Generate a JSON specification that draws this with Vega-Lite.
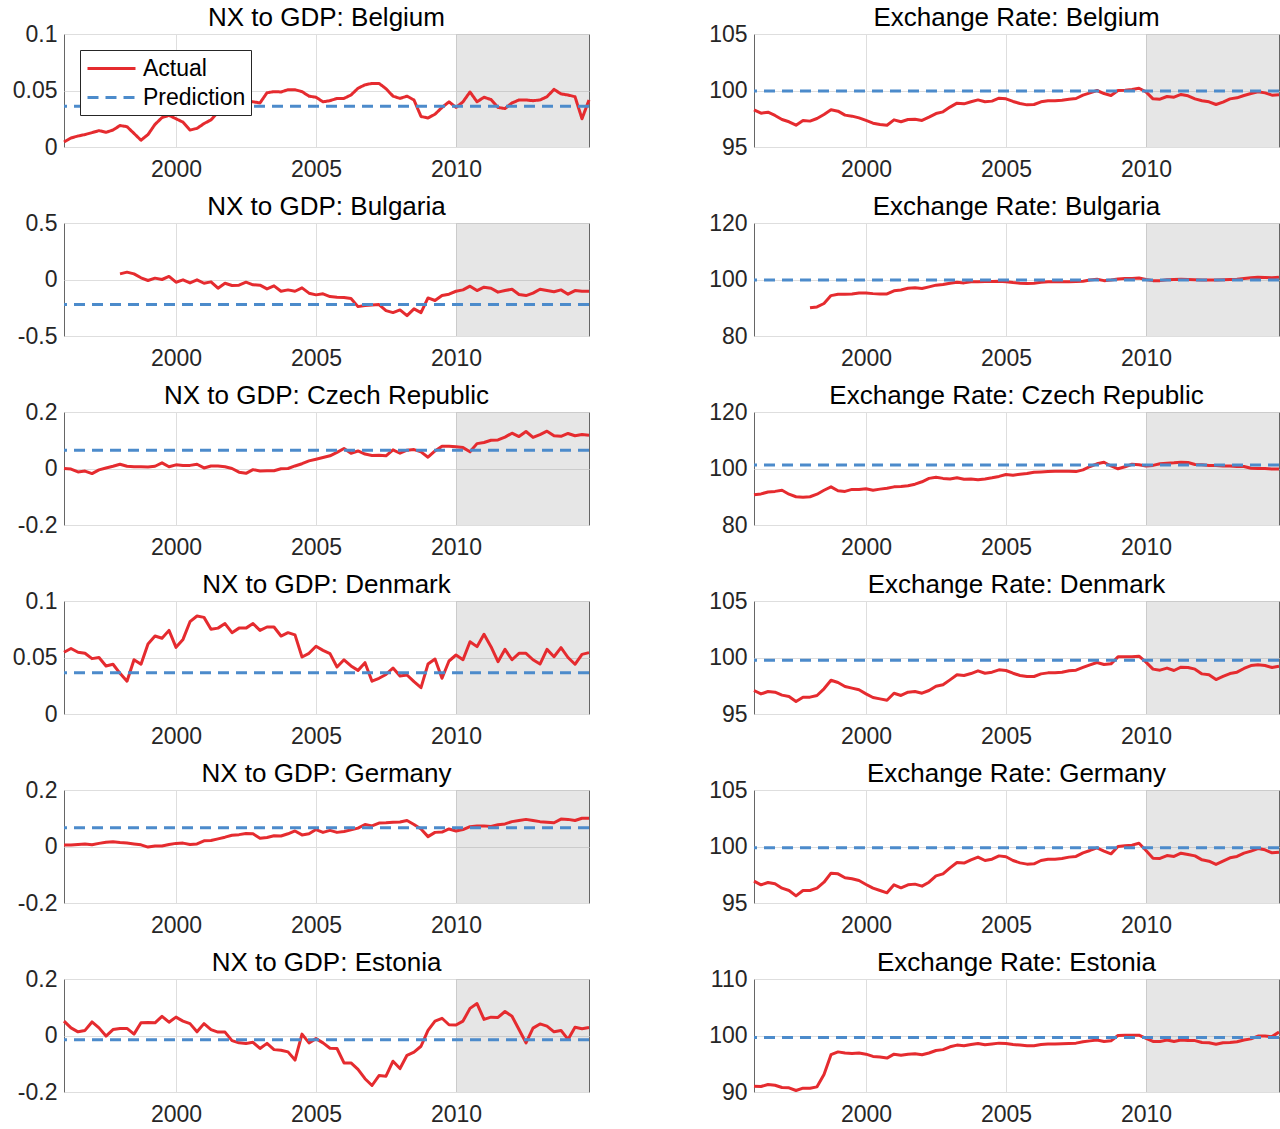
{
  "$schema": "https://vega.github.io/schema/vega-lite/v6.json",
  "background": "white",
  "padding": {"left": 11, "top": 4, "right": 1, "bottom": 4},
  "columns": 2,
  "spacing": {"row": 76, "column": 165},
  "bounds": "flush",
  "resolve": {"scale": {"color": "independent", "strokeDash": "independent"}, "legend": {"color": "independent", "strokeDash": "independent"}},
  "datasets": {
    "shade": [{"start": 2010, "end": 2014.75}],
    "pred": [{"nx_bel": 0.036, "er_bel": 99.95, "nx_bgr": -0.222, "er_bgr": 99.8, "nx_cze": 0.065, "er_cze": 101.2, "nx_dnk": 0.0366, "er_dnk": 99.76, "nx_deu": 0.066, "er_deu": 99.9, "nx_est": -0.015, "er_est": 99.65}],
    "series": [
      {"t":1996,"nx_bel":0.0044,"er_bel":98.29,"nx_bgr":null,"er_bgr":null,"nx_cze":0,"er_cze":90.7,"nx_dnk":0.0546,"er_dnk":97.08,"nx_deu":0.005,"er_deu":96.93,"nx_est":0.051,"er_est":91.03},
      {"t":1996.25,"nx_bel":0.008,"er_bel":97.99,"nx_bgr":null,"er_bgr":null,"nx_cze":-0.002,"er_cze":91.0,"nx_dnk":0.058,"er_dnk":96.78,"nx_deu":0.005,"er_deu":96.61,"nx_est":0.027,"er_est":90.97},
      {"t":1996.5,"nx_bel":0.0097,"er_bel":98.08,"nx_bgr":null,"er_bgr":null,"nx_cze":-0.012,"er_cze":91.7,"nx_dnk":0.0546,"er_dnk":96.99,"nx_deu":0.007,"er_deu":96.81,"nx_est":0.013,"er_est":91.33},
      {"t":1996.75,"nx_bel":0.011,"er_bel":97.79,"nx_bgr":null,"er_bgr":null,"nx_cze":-0.009,"er_cze":91.9,"nx_dnk":0.0537,"er_dnk":96.93,"nx_deu":0.009,"er_deu":96.70,"nx_est":0.018,"er_est":91.2},
      {"t":1997,"nx_bel":0.0127,"er_bel":97.43,"nx_bgr":null,"er_bgr":null,"nx_cze":-0.018,"er_cze":92.3,"nx_dnk":0.049,"er_dnk":96.67,"nx_deu":0.006,"er_deu":96.31,"nx_est":0.048,"er_est":90.8},
      {"t":1997.25,"nx_bel":0.0145,"er_bel":97.23,"nx_bgr":null,"er_bgr":null,"nx_cze":-0.005,"er_cze":90.9,"nx_dnk":0.050,"er_dnk":96.55,"nx_deu":0.011,"er_deu":96.11,"nx_est":0.027,"er_est":90.74},
      {"t":1997.5,"nx_bel":0.013,"er_bel":96.93,"nx_bgr":null,"er_bgr":null,"nx_cze":0.002,"er_cze":90.0,"nx_dnk":0.0425,"er_dnk":96.11,"nx_deu":0.015,"er_deu":95.63,"nx_est":-0.002,"er_est":90.27},
      {"t":1997.75,"nx_bel":0.015,"er_bel":97.35,"nx_bgr":null,"er_bgr":null,"nx_cze":0.008,"er_cze":89.85,"nx_dnk":0.044,"er_dnk":96.49,"nx_deu":0.017,"er_deu":96.11,"nx_est":0.021,"er_est":90.68},
      {"t":1998,"nx_bel":0.019,"er_bel":97.29,"nx_bgr":0.050,"er_bgr":89.97,"nx_cze":0.015,"er_cze":90.0,"nx_dnk":0.036,"er_dnk":96.49,"nx_deu":0.014,"er_deu":96.11,"nx_est":0.025,"er_est":90.68},
      {"t":1998.25,"nx_bel":0.018,"er_bel":97.52,"nx_bgr":0.065,"er_bgr":90.3,"nx_cze":0.008,"er_cze":90.9,"nx_dnk":0.029,"er_dnk":96.64,"nx_deu":0.012,"er_deu":96.31,"nx_est":0.025,"er_est":90.91},
      {"t":1998.5,"nx_bel":0.012,"er_bel":97.88,"nx_bgr":0.050,"er_bgr":91.5,"nx_cze":0.006,"er_cze":92.3,"nx_dnk":0.048,"er_dnk":97.23,"nx_deu":0.009,"er_deu":96.84,"nx_est":0.005,"er_est":93.1},
      {"t":1998.75,"nx_bel":0.006,"er_bel":98.29,"nx_bgr":0.015,"er_bgr":94.3,"nx_cze":0.006,"er_cze":93.5,"nx_dnk":0.044,"er_dnk":97.99,"nx_deu":0.006,"er_deu":97.64,"nx_est":0.045,"er_est":96.6},
      {"t":1999,"nx_bel":0.011,"er_bel":98.17,"nx_bgr":-0.009,"er_bgr":94.8,"nx_cze":0.005,"er_cze":92.1,"nx_dnk":0.062,"er_dnk":97.79,"nx_deu":-0.002,"er_deu":97.58,"nx_est":0.046,"er_est":97.1},
      {"t":1999.25,"nx_bel":0.020,"er_bel":97.82,"nx_bgr":0.012,"er_bgr":94.8,"nx_cze":0.008,"er_cze":91.9,"nx_dnk":0.069,"er_dnk":97.43,"nx_deu":0.002,"er_deu":97.23,"nx_est":0.045,"er_est":96.9},
      {"t":1999.5,"nx_bel":0.026,"er_bel":97.73,"nx_bgr":0,"er_bgr":94.9,"nx_cze":0.020,"er_cze":92.6,"nx_dnk":0.067,"er_dnk":97.29,"nx_deu":0.002,"er_deu":97.14,"nx_est":0.068,"er_est":96.8},
      {"t":1999.75,"nx_bel":0.028,"er_bel":97.58,"nx_bgr":0.027,"er_bgr":95.2,"nx_cze":0.006,"er_cze":92.6,"nx_dnk":0.074,"er_dnk":97.14,"nx_deu":0.007,"er_deu":96.99,"nx_est":0.047,"er_est":96.9},
      {"t":2000,"nx_bel":0.025,"er_bel":97.35,"nx_bgr":-0.024,"er_bgr":95.2,"nx_cze":0.013,"er_cze":92.8,"nx_dnk":0.059,"er_dnk":96.78,"nx_deu":0.011,"er_deu":96.64,"nx_est":0.065,"er_est":96.7},
      {"t":2000.25,"nx_bel":0.022,"er_bel":97.11,"nx_bgr":-0.003,"er_bgr":95.0,"nx_cze":0.011,"er_cze":92.3,"nx_dnk":0.066,"er_dnk":96.46,"nx_deu":0.012,"er_deu":96.31,"nx_est":0.051,"er_est":96.3},
      {"t":2000.5,"nx_bel":0.015,"er_bel":96.99,"nx_bgr":-0.030,"er_bgr":94.9,"nx_cze":0.011,"er_cze":92.7,"nx_dnk":0.0817,"er_dnk":96.34,"nx_deu":0.007,"er_deu":96.11,"nx_est":0.042,"er_est":96.2},
      {"t":2000.75,"nx_bel":0.0165,"er_bel":96.93,"nx_bgr":-0.003,"er_bgr":94.9,"nx_cze":0.015,"er_cze":93.0,"nx_dnk":0.0867,"er_dnk":96.22,"nx_deu":0.009,"er_deu":95.90,"nx_est":0.013,"er_est":96.0},
      {"t":2001,"nx_bel":0.0207,"er_bel":97.40,"nx_bgr":-0.033,"er_bgr":96.0,"nx_cze":0.002,"er_cze":93.5,"nx_dnk":0.0855,"er_dnk":96.84,"nx_deu":0.020,"er_deu":96.61,"nx_est":0.042,"er_est":96.7},
      {"t":2001.25,"nx_bel":0.024,"er_bel":97.23,"nx_bgr":-0.021,"er_bgr":96.3,"nx_cze":0.009,"er_cze":93.6,"nx_dnk":0.075,"er_dnk":96.64,"nx_deu":0.021,"er_deu":96.34,"nx_est":0.021,"er_est":96.5},
      {"t":2001.5,"nx_bel":0.031,"er_bel":97.43,"nx_bgr":-0.077,"er_bgr":96.9,"nx_cze":0.009,"er_cze":93.9,"nx_dnk":0.076,"er_dnk":96.93,"nx_deu":0.027,"er_deu":96.61,"nx_est":0.012,"er_est":96.7},
      {"t":2001.75,"nx_bel":0.034,"er_bel":97.46,"nx_bgr":-0.033,"er_bgr":97.05,"nx_cze":0.006,"er_cze":94.45,"nx_dnk":0.080,"er_dnk":96.99,"nx_deu":0.033,"er_deu":96.67,"nx_est":0.012,"er_est":96.75},
      {"t":2002,"nx_bel":0.036,"er_bel":97.35,"nx_bgr":-0.053,"er_bgr":96.8,"nx_cze":0,"er_cze":95.3,"nx_dnk":0.072,"er_dnk":96.84,"nx_deu":0.040,"er_deu":96.49,"nx_est":-0.018,"er_est":96.6},
      {"t":2002.25,"nx_bel":0.038,"er_bel":97.64,"nx_bgr":-0.050,"er_bgr":97.4,"nx_cze":-0.013,"er_cze":96.5,"nx_dnk":0.076,"er_dnk":97.08,"nx_deu":0.042,"er_deu":96.84,"nx_est":-0.026,"er_est":96.9},
      {"t":2002.5,"nx_bel":0.041,"er_bel":97.96,"nx_bgr":-0.024,"er_bgr":98.0,"nx_cze":-0.017,"er_cze":96.9,"nx_dnk":0.076,"er_dnk":97.46,"nx_deu":0.046,"er_deu":97.40,"nx_est":-0.028,"er_est":97.35},
      {"t":2002.75,"nx_bel":0.040,"er_bel":98.11,"nx_bgr":-0.047,"er_bgr":98.2,"nx_cze":-0.004,"er_cze":96.5,"nx_dnk":0.080,"er_dnk":97.58,"nx_deu":0.045,"er_deu":97.58,"nx_est":-0.024,"er_est":97.5},
      {"t":2003,"nx_bel":0.039,"er_bel":98.53,"nx_bgr":-0.050,"er_bgr":98.7,"nx_cze":-0.009,"er_cze":96.3,"nx_dnk":0.074,"er_dnk":98.02,"nx_deu":0.029,"er_deu":98.11,"nx_est":-0.046,"er_est":98.0},
      {"t":2003.25,"nx_bel":0.048,"er_bel":98.88,"nx_bgr":-0.083,"er_bgr":99.05,"nx_cze":-0.008,"er_cze":96.7,"nx_dnk":0.077,"er_dnk":98.47,"nx_deu":0.032,"er_deu":98.58,"nx_est":-0.028,"er_est":98.3},
      {"t":2003.5,"nx_bel":0.049,"er_bel":98.82,"nx_bgr":-0.056,"er_bgr":98.8,"nx_cze":-0.008,"er_cze":96.2,"nx_dnk":0.077,"er_dnk":98.41,"nx_deu":0.038,"er_deu":98.53,"nx_est":-0.050,"er_est":98.2},
      {"t":2003.75,"nx_bel":0.0487,"er_bel":99.0,"nx_bgr":-0.104,"er_bgr":99.2,"nx_cze":-0.001,"er_cze":96.3,"nx_dnk":0.069,"er_dnk":98.58,"nx_deu":0.037,"er_deu":98.82,"nx_est":-0.052,"er_est":98.4},
      {"t":2004,"nx_bel":0.0507,"er_bel":99.17,"nx_bgr":-0.092,"er_bgr":99.2,"nx_cze":0,"er_cze":96.0,"nx_dnk":0.072,"er_dnk":98.82,"nx_deu":0.045,"er_deu":99.06,"nx_est":-0.058,"er_est":98.6},
      {"t":2004.25,"nx_bel":0.0507,"er_bel":99.0,"nx_bgr":-0.104,"er_bgr":99.3,"nx_cze":0.009,"er_cze":96.3,"nx_dnk":0.070,"er_dnk":98.61,"nx_deu":0.055,"er_deu":98.76,"nx_est":-0.087,"er_est":98.35},
      {"t":2004.5,"nx_bel":0.049,"er_bel":99.06,"nx_bgr":-0.074,"er_bgr":99.3,"nx_cze":0.017,"er_cze":96.7,"nx_dnk":0.0504,"er_dnk":98.70,"nx_deu":0.041,"er_deu":98.88,"nx_est":0.005,"er_est":98.5},
      {"t":2004.75,"nx_bel":0.045,"er_bel":99.32,"nx_bgr":-0.121,"er_bgr":99.4,"nx_cze":0.027,"er_cze":97.2,"nx_dnk":0.0537,"er_dnk":98.91,"nx_deu":0.045,"er_deu":99.17,"nx_est":-0.026,"er_est":98.65},
      {"t":2005,"nx_bel":0.044,"er_bel":99.26,"nx_bgr":-0.136,"er_bgr":99.2,"nx_cze":0.033,"er_cze":97.9,"nx_dnk":0.060,"er_dnk":98.85,"nx_deu":0.060,"er_deu":99.09,"nx_est":-0.011,"er_est":98.6},
      {"t":2005.25,"nx_bel":0.040,"er_bel":99.03,"nx_bgr":-0.127,"er_bgr":98.9,"nx_cze":0.039,"er_cze":97.6,"nx_dnk":0.0563,"er_dnk":98.61,"nx_deu":0.050,"er_deu":98.76,"nx_est":-0.026,"er_est":98.4},
      {"t":2005.5,"nx_bel":0.041,"er_bel":98.85,"nx_bgr":-0.151,"er_bgr":98.7,"nx_cze":0.045,"er_cze":98.0,"nx_dnk":0.0534,"er_dnk":98.41,"nx_deu":0.057,"er_deu":98.55,"nx_est":-0.045,"er_est":98.3},
      {"t":2005.75,"nx_bel":0.043,"er_bel":98.73,"nx_bgr":-0.157,"er_bgr":98.6,"nx_cze":0.057,"er_cze":98.2,"nx_dnk":0.0416,"er_dnk":98.32,"nx_deu":0.050,"er_deu":98.44,"nx_est":-0.046,"er_est":98.2},
      {"t":2006,"nx_bel":0.043,"er_bel":98.76,"nx_bgr":-0.160,"er_bgr":98.7,"nx_cze":0.071,"er_cze":98.7,"nx_dnk":0.048,"er_dnk":98.32,"nx_deu":0.053,"er_deu":98.47,"nx_est":-0.097,"er_est":98.2},
      {"t":2006.25,"nx_bel":0.046,"er_bel":99.0,"nx_bgr":-0.169,"er_bgr":99.05,"nx_cze":0.054,"er_cze":98.8,"nx_dnk":0.0425,"er_dnk":98.55,"nx_deu":0.059,"er_deu":98.76,"nx_est":-0.097,"er_est":98.4},
      {"t":2006.5,"nx_bel":0.052,"er_bel":99.09,"nx_bgr":-0.240,"er_bgr":99.2,"nx_cze":0.062,"er_cze":98.9,"nx_dnk":0.0386,"er_dnk":98.64,"nx_deu":0.065,"er_deu":98.88,"nx_est":-0.120,"er_est":98.5},
      {"t":2006.75,"nx_bel":0.055,"er_bel":99.09,"nx_bgr":-0.231,"er_bgr":99.2,"nx_cze":0.051,"er_cze":99.05,"nx_dnk":0.0454,"er_dnk":98.64,"nx_deu":0.078,"er_deu":98.88,"nx_est":-0.153,"er_est":98.5},
      {"t":2007,"nx_bel":0.0563,"er_bel":99.14,"nx_bgr":-0.225,"er_bgr":99.2,"nx_cze":0.046,"er_cze":99.05,"nx_dnk":0.029,"er_dnk":98.70,"nx_deu":0.073,"er_deu":98.94,"nx_est":-0.177,"er_est":98.55},
      {"t":2007.25,"nx_bel":0.0563,"er_bel":99.23,"nx_bgr":-0.222,"er_bgr":99.2,"nx_cze":0.047,"er_cze":99.05,"nx_dnk":0.0316,"er_dnk":98.82,"nx_deu":0.083,"er_deu":99.06,"nx_est":-0.142,"er_est":98.6},
      {"t":2007.5,"nx_bel":0.0516,"er_bel":99.29,"nx_bgr":-0.275,"er_bgr":99.3,"nx_cze":0.045,"er_cze":98.9,"nx_dnk":0.035,"er_dnk":98.88,"nx_deu":0.084,"er_deu":99.12,"nx_est":-0.144,"er_est":98.65},
      {"t":2007.75,"nx_bel":0.045,"er_bel":99.59,"nx_bgr":-0.293,"er_bgr":99.4,"nx_cze":0.066,"er_cze":99.5,"nx_dnk":0.0407,"er_dnk":99.12,"nx_deu":0.086,"er_deu":99.44,"nx_est":-0.091,"er_est":98.9},
      {"t":2008,"nx_bel":0.043,"er_bel":99.79,"nx_bgr":-0.269,"er_bgr":99.8,"nx_cze":0.054,"er_cze":100.7,"nx_dnk":0.0336,"er_dnk":99.35,"nx_deu":0.087,"er_deu":99.65,"nx_est":-0.117,"er_est":99.05},
      {"t":2008.25,"nx_bel":0.045,"er_bel":100.0,"nx_bgr":-0.320,"er_bgr":100.1,"nx_cze":0.065,"er_cze":101.65,"nx_dnk":0.0345,"er_dnk":99.56,"nx_deu":0.092,"er_deu":99.88,"nx_est":-0.070,"er_est":99.2},
      {"t":2008.5,"nx_bel":0.0416,"er_bel":99.73,"nx_bgr":-0.260,"er_bgr":99.6,"nx_cze":0.067,"er_cze":102.2,"nx_dnk":0.0286,"er_dnk":99.38,"nx_deu":0.078,"er_deu":99.59,"nx_est":-0.059,"er_est":98.95},
      {"t":2008.75,"nx_bel":0.027,"er_bel":99.56,"nx_bgr":-0.293,"er_bgr":99.8,"nx_cze":0.059,"er_cze":100.9,"nx_dnk":0.0233,"er_dnk":99.44,"nx_deu":0.062,"er_deu":99.35,"nx_est":-0.038,"er_est":99.05},
      {"t":2009,"nx_bel":0.0257,"er_bel":100.0,"nx_bgr":-0.163,"er_bgr":100.2,"nx_cze":0.040,"er_cze":99.9,"nx_dnk":0.0442,"er_dnk":100.06,"nx_deu":0.035,"er_deu":100.0,"nx_est":0.018,"er_est":100.0},
      {"t":2009.25,"nx_bel":0.029,"er_bel":100.03,"nx_bgr":-0.186,"er_bgr":100.35,"nx_cze":0.062,"er_cze":100.6,"nx_dnk":0.0487,"er_dnk":100.06,"nx_deu":0.050,"er_deu":100.06,"nx_est":0.051,"er_est":100.05},
      {"t":2009.5,"nx_bel":0.035,"er_bel":100.09,"nx_bgr":-0.142,"er_bgr":100.35,"nx_cze":0.079,"er_cze":101.5,"nx_dnk":0.0316,"er_dnk":100.06,"nx_deu":0.051,"er_deu":100.12,"nx_est":0.061,"er_est":100.05},
      {"t":2009.75,"nx_bel":0.040,"er_bel":100.2,"nx_bgr":-0.130,"er_bgr":100.5,"nx_cze":0.079,"er_cze":101.3,"nx_dnk":0.0469,"er_dnk":100.12,"nx_deu":0.062,"er_deu":100.29,"nx_est":0.038,"er_est":100.05},
      {"t":2010,"nx_bel":0.035,"er_bel":99.88,"nx_bgr":-0.104,"er_bgr":100.0,"nx_cze":0.077,"er_cze":100.9,"nx_dnk":0.0522,"er_dnk":99.59,"nx_deu":0.055,"er_deu":99.65,"nx_est":0.037,"er_est":99.5},
      {"t":2010.25,"nx_bel":0.040,"er_bel":99.26,"nx_bgr":-0.092,"er_bgr":99.6,"nx_cze":0.074,"er_cze":101.1,"nx_dnk":0.048,"er_dnk":98.97,"nx_deu":0.060,"er_deu":98.97,"nx_est":0.051,"er_est":98.95},
      {"t":2010.5,"nx_bel":0.0487,"er_bel":99.23,"nx_bgr":-0.059,"er_bgr":99.6,"nx_cze":0.059,"er_cze":101.65,"nx_dnk":0.064,"er_dnk":98.88,"nx_deu":0.070,"er_deu":98.94,"nx_est":0.096,"er_est":98.95},
      {"t":2010.75,"nx_bel":0.040,"er_bel":99.47,"nx_bgr":-0.098,"er_bgr":99.9,"nx_cze":0.088,"er_cze":101.9,"nx_dnk":0.0596,"er_dnk":99.06,"nx_deu":0.073,"er_deu":99.20,"nx_est":0.113,"er_est":99.2},
      {"t":2011,"nx_bel":0.044,"er_bel":99.41,"nx_bgr":-0.068,"er_bgr":100.0,"nx_cze":0.092,"er_cze":102.0,"nx_dnk":0.0705,"er_dnk":98.85,"nx_deu":0.073,"er_deu":99.12,"nx_est":0.057,"er_est":98.95},
      {"t":2011.25,"nx_bel":0.042,"er_bel":99.65,"nx_bgr":-0.077,"er_bgr":100.1,"nx_cze":0.100,"er_cze":102.2,"nx_dnk":0.0596,"er_dnk":99.14,"nx_deu":0.071,"er_deu":99.41,"nx_est":0.065,"er_est":99.2},
      {"t":2011.5,"nx_bel":0.035,"er_bel":99.53,"nx_bgr":-0.112,"er_bgr":100.0,"nx_cze":0.101,"er_cze":102.1,"nx_dnk":0.0463,"er_dnk":99.12,"nx_deu":0.077,"er_deu":99.29,"nx_est":0.064,"er_est":99.1},
      {"t":2011.75,"nx_bel":0.034,"er_bel":99.26,"nx_bgr":-0.098,"er_bgr":99.9,"nx_cze":0.111,"er_cze":101.4,"nx_dnk":0.0572,"er_dnk":98.97,"nx_deu":0.080,"er_deu":99.17,"nx_est":0.085,"er_est":99.1},
      {"t":2012,"nx_bel":0.039,"er_bel":99.09,"nx_bgr":-0.086,"er_bgr":99.8,"nx_cze":0.125,"er_cze":101.3,"nx_dnk":0.048,"er_dnk":98.55,"nx_deu":0.088,"er_deu":98.82,"nx_est":0.068,"er_est":98.75},
      {"t":2012.25,"nx_bel":0.0416,"er_bel":99.0,"nx_bgr":-0.133,"er_bgr":99.8,"nx_cze":0.113,"er_cze":101.1,"nx_dnk":0.0537,"er_dnk":98.47,"nx_deu":0.092,"er_deu":98.70,"nx_est":0.021,"er_est":98.7},
      {"t":2012.5,"nx_bel":0.0416,"er_bel":98.76,"nx_bgr":-0.142,"er_bgr":99.8,"nx_cze":0.131,"er_cze":101.1,"nx_dnk":0.0537,"er_dnk":98.05,"nx_deu":0.096,"er_deu":98.41,"nx_est":-0.026,"er_est":98.45},
      {"t":2012.75,"nx_bel":0.041,"er_bel":98.97,"nx_bgr":-0.121,"er_bgr":99.9,"nx_cze":0.110,"er_cze":100.9,"nx_dnk":0.048,"er_dnk":98.32,"nx_deu":0.092,"er_deu":98.70,"nx_est":0.026,"er_est":98.7},
      {"t":2013,"nx_bel":0.0416,"er_bel":99.26,"nx_bgr":-0.086,"er_bgr":100.0,"nx_cze":0.120,"er_cze":100.9,"nx_dnk":0.0442,"er_dnk":98.58,"nx_deu":0.088,"er_deu":99.0,"nx_est":0.041,"er_est":98.75},
      {"t":2013.25,"nx_bel":0.0445,"er_bel":99.35,"nx_bgr":-0.098,"er_bgr":100.1,"nx_cze":0.132,"er_cze":100.7,"nx_dnk":0.0572,"er_dnk":98.70,"nx_deu":0.086,"er_deu":99.12,"nx_est":0.033,"er_est":98.9},
      {"t":2013.5,"nx_bel":0.051,"er_bel":99.56,"nx_bgr":-0.109,"er_bgr":100.35,"nx_cze":0.116,"er_cze":100.7,"nx_dnk":0.0507,"er_dnk":99.03,"nx_deu":0.084,"er_deu":99.41,"nx_est":0.013,"er_est":99.2},
      {"t":2013.75,"nx_bel":0.047,"er_bel":99.73,"nx_bgr":-0.092,"er_bgr":100.6,"nx_cze":0.114,"er_cze":100.1,"nx_dnk":0.0587,"er_dnk":99.29,"nx_deu":0.097,"er_deu":99.59,"nx_est":0.018,"er_est":99.4},
      {"t":2014,"nx_bel":0.046,"er_bel":99.88,"nx_bgr":-0.130,"er_bgr":100.8,"nx_cze":0.124,"er_cze":100.0,"nx_dnk":0.050,"er_dnk":99.35,"nx_deu":0.096,"er_deu":99.82,"nx_est":-0.014,"er_est":99.9},
      {"t":2014.25,"nx_bel":0.0445,"er_bel":99.79,"nx_bgr":-0.098,"er_bgr":100.7,"nx_cze":0.116,"er_cze":100.0,"nx_dnk":0.044,"er_dnk":99.29,"nx_deu":0.092,"er_deu":99.71,"nx_est":0.029,"er_est":99.9},
      {"t":2014.5,"nx_bel":0.025,"er_bel":99.59,"nx_bgr":-0.104,"er_bgr":100.6,"nx_cze":0.120,"er_cze":99.8,"nx_dnk":0.0528,"er_dnk":99.12,"nx_deu":0.100,"er_deu":99.44,"nx_est":0.024,"er_est":99.8},
      {"t":2014.75,"nx_bel":0.0416,"er_bel":99.62,"nx_bgr":-0.104,"er_bgr":100.8,"nx_cze":0.118,"er_cze":99.8,"nx_dnk":0.0543,"er_dnk":99.23,"nx_deu":0.100,"er_deu":99.50,"nx_est":0.028,"er_est":100.6}
    ]
  },
  "concat": [
    {"title": "NX to GDP: Belgium", "width": 525, "height": 113, "layer": [
      {"data": {"name": "shade"}, "mark": {"type": "rect", "fill": "#808080", "opacity": 0.2}, "encoding": {"x": {"field": "start", "type": "quantitative", "title": null, "scale": {"domain": [1996, 2014.75], "nice": false, "zero": false}, "axis": {"values": [2000, 2005, 2010]}}, "x2": {"field": "end"}}},
      {"data": {"name": "series"}, "mark": {"type": "line", "strokeWidth": 3, "strokeJoin": "round"}, "encoding": {
        "x": {"field": "t", "type": "quantitative", "title": null, "scale": {"domain": [1996, 2014.75], "nice": false, "zero": false}, "axis": {"values": [2000, 2005, 2010]}},
        "y": {"field": "nx_bel", "type": "quantitative", "title": null, "scale": {"domain": [0, 0.1], "nice": false, "zero": false}, "axis": {"values": [0, 0.05, 0.1]}},
        "color": {"datum": "Actual", "scale": {"domain": ["Actual", "Prediction"], "range": ["#e52b2f", "#4c8bcb"]}, "legend": {"title": null, "orient": "top-left", "offset": 16, "fillColor": "white", "strokeColor": "#262626", "padding": 5, "labelFontSize": 23, "labelColor": "#000000", "symbolType": "M-2,0H2", "symbolSize": 576, "symbolStrokeWidth": 3, "symbolOffset": 13, "labelOffset": 18, "rowPadding": 3}},
        "strokeDash": {"datum": "Actual", "scale": {"domain": ["Actual", "Prediction"], "range": [[1, 0], [11, 7]]}}}},
      {"data": {"name": "pred"}, "mark": {"type": "rule", "strokeWidth": 3}, "encoding": {
        "y": {"field": "nx_bel", "type": "quantitative", "title": null, "axis": {"values": [0, 0.05, 0.1]}},
        "color": {"datum": "Prediction"},
        "strokeDash": {"datum": "Prediction"}}}
    ]},
    {"title": "Exchange Rate: Belgium", "width": 525, "height": 113, "layer": [
      {"data": {"name": "shade"}, "mark": {"type": "rect", "fill": "#808080", "opacity": 0.2}, "encoding": {"x": {"field": "start", "type": "quantitative", "title": null, "scale": {"domain": [1996, 2014.75], "nice": false, "zero": false}, "axis": {"values": [2000, 2005, 2010]}}, "x2": {"field": "end"}}},
      {"data": {"name": "series"}, "mark": {"type": "line", "strokeWidth": 3, "strokeJoin": "round", "color": "#e52b2f"}, "encoding": {
        "x": {"field": "t", "type": "quantitative", "title": null, "scale": {"domain": [1996, 2014.75], "nice": false, "zero": false}, "axis": {"values": [2000, 2005, 2010]}},
        "y": {"field": "er_bel", "type": "quantitative", "title": null, "scale": {"domain": [95, 105], "nice": false, "zero": false}, "axis": {"values": [95, 100, 105]}}}},
      {"data": {"name": "pred"}, "mark": {"type": "rule", "strokeWidth": 3, "color": "#4c8bcb", "strokeDash": [11, 7]}, "encoding": {"y": {"field": "er_bel", "type": "quantitative", "title": null, "axis": {"values": [95, 100, 105]}}}}
    ]},
    {"title": "NX to GDP: Bulgaria", "width": 525, "height": 113, "layer": [
      {"data": {"name": "shade"}, "mark": {"type": "rect", "fill": "#808080", "opacity": 0.2}, "encoding": {"x": {"field": "start", "type": "quantitative", "title": null, "scale": {"domain": [1996, 2014.75], "nice": false, "zero": false}, "axis": {"values": [2000, 2005, 2010]}}, "x2": {"field": "end"}}},
      {"data": {"name": "series"}, "mark": {"type": "line", "strokeWidth": 3, "strokeJoin": "round", "color": "#e52b2f"}, "encoding": {
        "x": {"field": "t", "type": "quantitative", "title": null, "scale": {"domain": [1996, 2014.75], "nice": false, "zero": false}, "axis": {"values": [2000, 2005, 2010]}},
        "y": {"field": "nx_bgr", "type": "quantitative", "title": null, "scale": {"domain": [-0.5, 0.5], "nice": false, "zero": false}, "axis": {"values": [-0.5, 0, 0.5]}}}},
      {"data": {"name": "pred"}, "mark": {"type": "rule", "strokeWidth": 3, "color": "#4c8bcb", "strokeDash": [11, 7]}, "encoding": {"y": {"field": "nx_bgr", "type": "quantitative", "title": null, "axis": {"values": [-0.5, 0, 0.5]}}}}
    ]},
    {"title": "Exchange Rate: Bulgaria", "width": 525, "height": 113, "layer": [
      {"data": {"name": "shade"}, "mark": {"type": "rect", "fill": "#808080", "opacity": 0.2}, "encoding": {"x": {"field": "start", "type": "quantitative", "title": null, "scale": {"domain": [1996, 2014.75], "nice": false, "zero": false}, "axis": {"values": [2000, 2005, 2010]}}, "x2": {"field": "end"}}},
      {"data": {"name": "series"}, "mark": {"type": "line", "strokeWidth": 3, "strokeJoin": "round", "color": "#e52b2f"}, "encoding": {
        "x": {"field": "t", "type": "quantitative", "title": null, "scale": {"domain": [1996, 2014.75], "nice": false, "zero": false}, "axis": {"values": [2000, 2005, 2010]}},
        "y": {"field": "er_bgr", "type": "quantitative", "title": null, "scale": {"domain": [80, 120], "nice": false, "zero": false}, "axis": {"values": [80, 100, 120]}}}},
      {"data": {"name": "pred"}, "mark": {"type": "rule", "strokeWidth": 3, "color": "#4c8bcb", "strokeDash": [11, 7]}, "encoding": {"y": {"field": "er_bgr", "type": "quantitative", "title": null, "axis": {"values": [80, 100, 120]}}}}
    ]},
    {"title": "NX to GDP: Czech Republic", "width": 525, "height": 113, "layer": [
      {"data": {"name": "shade"}, "mark": {"type": "rect", "fill": "#808080", "opacity": 0.2}, "encoding": {"x": {"field": "start", "type": "quantitative", "title": null, "scale": {"domain": [1996, 2014.75], "nice": false, "zero": false}, "axis": {"values": [2000, 2005, 2010]}}, "x2": {"field": "end"}}},
      {"data": {"name": "series"}, "mark": {"type": "line", "strokeWidth": 3, "strokeJoin": "round", "color": "#e52b2f"}, "encoding": {
        "x": {"field": "t", "type": "quantitative", "title": null, "scale": {"domain": [1996, 2014.75], "nice": false, "zero": false}, "axis": {"values": [2000, 2005, 2010]}},
        "y": {"field": "nx_cze", "type": "quantitative", "title": null, "scale": {"domain": [-0.2, 0.2], "nice": false, "zero": false}, "axis": {"values": [-0.2, 0, 0.2]}}}},
      {"data": {"name": "pred"}, "mark": {"type": "rule", "strokeWidth": 3, "color": "#4c8bcb", "strokeDash": [11, 7]}, "encoding": {"y": {"field": "nx_cze", "type": "quantitative", "title": null, "axis": {"values": [-0.2, 0, 0.2]}}}}
    ]},
    {"title": "Exchange Rate: Czech Republic", "width": 525, "height": 113, "layer": [
      {"data": {"name": "shade"}, "mark": {"type": "rect", "fill": "#808080", "opacity": 0.2}, "encoding": {"x": {"field": "start", "type": "quantitative", "title": null, "scale": {"domain": [1996, 2014.75], "nice": false, "zero": false}, "axis": {"values": [2000, 2005, 2010]}}, "x2": {"field": "end"}}},
      {"data": {"name": "series"}, "mark": {"type": "line", "strokeWidth": 3, "strokeJoin": "round", "color": "#e52b2f"}, "encoding": {
        "x": {"field": "t", "type": "quantitative", "title": null, "scale": {"domain": [1996, 2014.75], "nice": false, "zero": false}, "axis": {"values": [2000, 2005, 2010]}},
        "y": {"field": "er_cze", "type": "quantitative", "title": null, "scale": {"domain": [80, 120], "nice": false, "zero": false}, "axis": {"values": [80, 100, 120]}}}},
      {"data": {"name": "pred"}, "mark": {"type": "rule", "strokeWidth": 3, "color": "#4c8bcb", "strokeDash": [11, 7]}, "encoding": {"y": {"field": "er_cze", "type": "quantitative", "title": null, "axis": {"values": [80, 100, 120]}}}}
    ]},
    {"title": "NX to GDP: Denmark", "width": 525, "height": 113, "layer": [
      {"data": {"name": "shade"}, "mark": {"type": "rect", "fill": "#808080", "opacity": 0.2}, "encoding": {"x": {"field": "start", "type": "quantitative", "title": null, "scale": {"domain": [1996, 2014.75], "nice": false, "zero": false}, "axis": {"values": [2000, 2005, 2010]}}, "x2": {"field": "end"}}},
      {"data": {"name": "series"}, "mark": {"type": "line", "strokeWidth": 3, "strokeJoin": "round", "color": "#e52b2f"}, "encoding": {
        "x": {"field": "t", "type": "quantitative", "title": null, "scale": {"domain": [1996, 2014.75], "nice": false, "zero": false}, "axis": {"values": [2000, 2005, 2010]}},
        "y": {"field": "nx_dnk", "type": "quantitative", "title": null, "scale": {"domain": [0, 0.1], "nice": false, "zero": false}, "axis": {"values": [0, 0.05, 0.1]}}}},
      {"data": {"name": "pred"}, "mark": {"type": "rule", "strokeWidth": 3, "color": "#4c8bcb", "strokeDash": [11, 7]}, "encoding": {"y": {"field": "nx_dnk", "type": "quantitative", "title": null, "axis": {"values": [0, 0.05, 0.1]}}}}
    ]},
    {"title": "Exchange Rate: Denmark", "width": 525, "height": 113, "layer": [
      {"data": {"name": "shade"}, "mark": {"type": "rect", "fill": "#808080", "opacity": 0.2}, "encoding": {"x": {"field": "start", "type": "quantitative", "title": null, "scale": {"domain": [1996, 2014.75], "nice": false, "zero": false}, "axis": {"values": [2000, 2005, 2010]}}, "x2": {"field": "end"}}},
      {"data": {"name": "series"}, "mark": {"type": "line", "strokeWidth": 3, "strokeJoin": "round", "color": "#e52b2f"}, "encoding": {
        "x": {"field": "t", "type": "quantitative", "title": null, "scale": {"domain": [1996, 2014.75], "nice": false, "zero": false}, "axis": {"values": [2000, 2005, 2010]}},
        "y": {"field": "er_dnk", "type": "quantitative", "title": null, "scale": {"domain": [95, 105], "nice": false, "zero": false}, "axis": {"values": [95, 100, 105]}}}},
      {"data": {"name": "pred"}, "mark": {"type": "rule", "strokeWidth": 3, "color": "#4c8bcb", "strokeDash": [11, 7]}, "encoding": {"y": {"field": "er_dnk", "type": "quantitative", "title": null, "axis": {"values": [95, 100, 105]}}}}
    ]},
    {"title": "NX to GDP: Germany", "width": 525, "height": 113, "layer": [
      {"data": {"name": "shade"}, "mark": {"type": "rect", "fill": "#808080", "opacity": 0.2}, "encoding": {"x": {"field": "start", "type": "quantitative", "title": null, "scale": {"domain": [1996, 2014.75], "nice": false, "zero": false}, "axis": {"values": [2000, 2005, 2010]}}, "x2": {"field": "end"}}},
      {"data": {"name": "series"}, "mark": {"type": "line", "strokeWidth": 3, "strokeJoin": "round", "color": "#e52b2f"}, "encoding": {
        "x": {"field": "t", "type": "quantitative", "title": null, "scale": {"domain": [1996, 2014.75], "nice": false, "zero": false}, "axis": {"values": [2000, 2005, 2010]}},
        "y": {"field": "nx_deu", "type": "quantitative", "title": null, "scale": {"domain": [-0.2, 0.2], "nice": false, "zero": false}, "axis": {"values": [-0.2, 0, 0.2]}}}},
      {"data": {"name": "pred"}, "mark": {"type": "rule", "strokeWidth": 3, "color": "#4c8bcb", "strokeDash": [11, 7]}, "encoding": {"y": {"field": "nx_deu", "type": "quantitative", "title": null, "axis": {"values": [-0.2, 0, 0.2]}}}}
    ]},
    {"title": "Exchange Rate: Germany", "width": 525, "height": 113, "layer": [
      {"data": {"name": "shade"}, "mark": {"type": "rect", "fill": "#808080", "opacity": 0.2}, "encoding": {"x": {"field": "start", "type": "quantitative", "title": null, "scale": {"domain": [1996, 2014.75], "nice": false, "zero": false}, "axis": {"values": [2000, 2005, 2010]}}, "x2": {"field": "end"}}},
      {"data": {"name": "series"}, "mark": {"type": "line", "strokeWidth": 3, "strokeJoin": "round", "color": "#e52b2f"}, "encoding": {
        "x": {"field": "t", "type": "quantitative", "title": null, "scale": {"domain": [1996, 2014.75], "nice": false, "zero": false}, "axis": {"values": [2000, 2005, 2010]}},
        "y": {"field": "er_deu", "type": "quantitative", "title": null, "scale": {"domain": [95, 105], "nice": false, "zero": false}, "axis": {"values": [95, 100, 105]}}}},
      {"data": {"name": "pred"}, "mark": {"type": "rule", "strokeWidth": 3, "color": "#4c8bcb", "strokeDash": [11, 7]}, "encoding": {"y": {"field": "er_deu", "type": "quantitative", "title": null, "axis": {"values": [95, 100, 105]}}}}
    ]},
    {"title": "NX to GDP: Estonia", "width": 525, "height": 113, "layer": [
      {"data": {"name": "shade"}, "mark": {"type": "rect", "fill": "#808080", "opacity": 0.2}, "encoding": {"x": {"field": "start", "type": "quantitative", "title": null, "scale": {"domain": [1996, 2014.75], "nice": false, "zero": false}, "axis": {"values": [2000, 2005, 2010]}}, "x2": {"field": "end"}}},
      {"data": {"name": "series"}, "mark": {"type": "line", "strokeWidth": 3, "strokeJoin": "round", "color": "#e52b2f"}, "encoding": {
        "x": {"field": "t", "type": "quantitative", "title": null, "scale": {"domain": [1996, 2014.75], "nice": false, "zero": false}, "axis": {"values": [2000, 2005, 2010]}},
        "y": {"field": "nx_est", "type": "quantitative", "title": null, "scale": {"domain": [-0.2, 0.2], "nice": false, "zero": false}, "axis": {"values": [-0.2, 0, 0.2]}}}},
      {"data": {"name": "pred"}, "mark": {"type": "rule", "strokeWidth": 3, "color": "#4c8bcb", "strokeDash": [11, 7]}, "encoding": {"y": {"field": "nx_est", "type": "quantitative", "title": null, "axis": {"values": [-0.2, 0, 0.2]}}}}
    ]},
    {"title": "Exchange Rate: Estonia", "width": 525, "height": 113, "layer": [
      {"data": {"name": "shade"}, "mark": {"type": "rect", "fill": "#808080", "opacity": 0.2}, "encoding": {"x": {"field": "start", "type": "quantitative", "title": null, "scale": {"domain": [1996, 2014.75], "nice": false, "zero": false}, "axis": {"values": [2000, 2005, 2010]}}, "x2": {"field": "end"}}},
      {"data": {"name": "series"}, "mark": {"type": "line", "strokeWidth": 3, "strokeJoin": "round", "color": "#e52b2f"}, "encoding": {
        "x": {"field": "t", "type": "quantitative", "title": null, "scale": {"domain": [1996, 2014.75], "nice": false, "zero": false}, "axis": {"values": [2000, 2005, 2010]}},
        "y": {"field": "er_est", "type": "quantitative", "title": null, "scale": {"domain": [90, 110], "nice": false, "zero": false}, "axis": {"values": [90, 100, 110]}}}},
      {"data": {"name": "pred"}, "mark": {"type": "rule", "strokeWidth": 3, "color": "#4c8bcb", "strokeDash": [11, 7]}, "encoding": {"y": {"field": "er_est", "type": "quantitative", "title": null, "axis": {"values": [90, 100, 110]}}}}
    ]}
  ],
  "config": {
    "font": "Liberation Sans",
    "view": {"stroke": "#666666", "strokeWidth": 1},
    "axis": {"labelFontSize": 23, "labelColor": "#262626", "labelFont": "Liberation Sans", "ticks": false, "domain": false, "grid": true, "gridColor": "#dedede", "gridWidth": 1, "labelPadding": 7, "labelExpr": "datum.value + ''", "labelOverlap": false},
    "axisX": {"labelPadding": 11},
    "title": {"fontSize": 26, "fontWeight": "normal", "color": "#000000", "font": "Liberation Sans", "frame": "group", "anchor": "middle", "baseline": "alphabetic", "offset": -8},
    "legend": {"labelFont": "Liberation Sans"}
  }
}
